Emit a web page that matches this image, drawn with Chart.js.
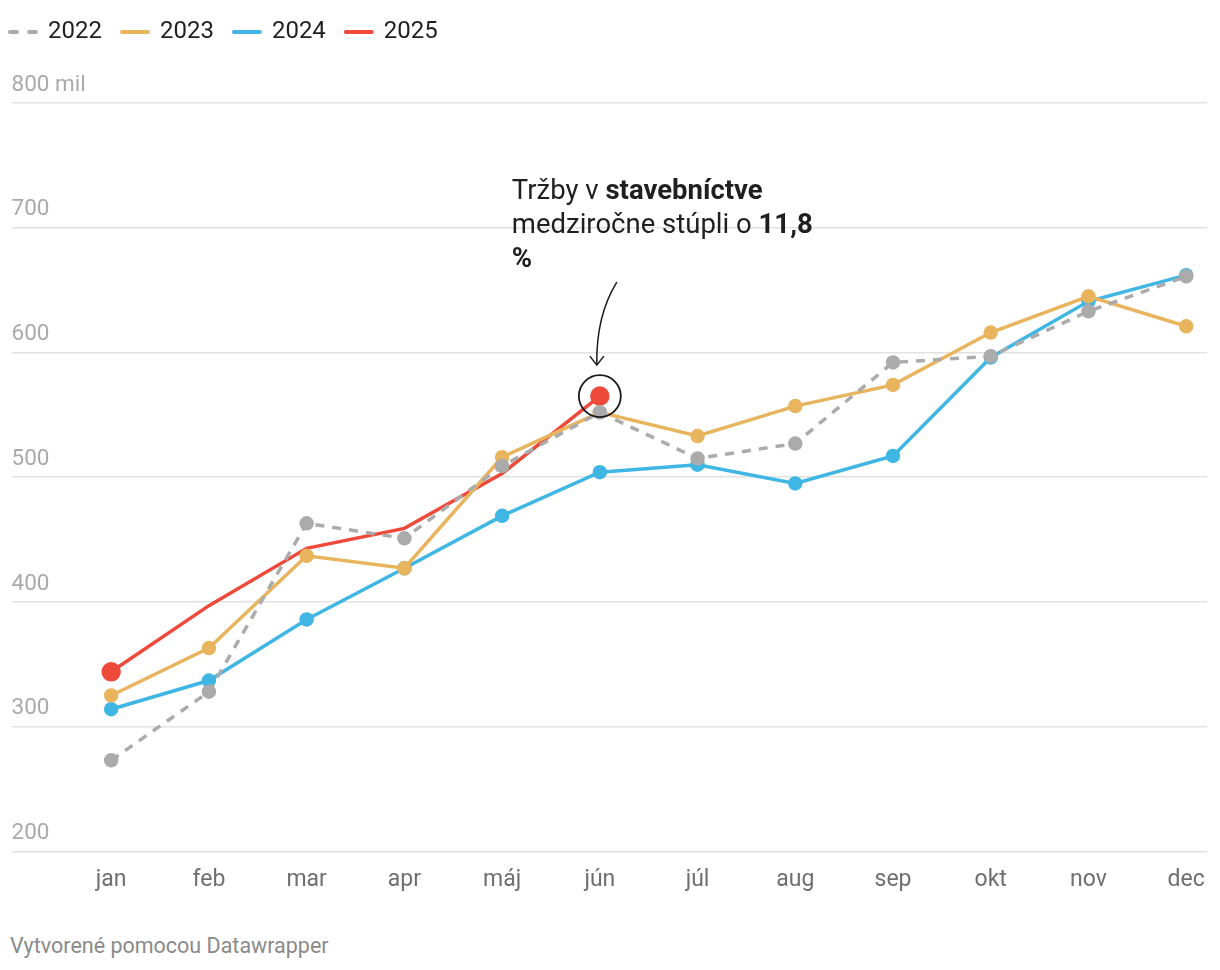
<!DOCTYPE html>
<html>
<head>
<meta charset="utf-8">
<script src="https://cdn.jsdelivr.net/npm/chart.js@4"></script>
<style>
  body { margin: 0; background: #fff; font-family: Roboto, sans-serif; }
  #wrap { position: relative; width: 1220px; height: 909px; }
  #footer { position: absolute; left: 10px; top: 933px; font-size: 21.5px; color: #8a8a8a; }
</style>
</head>
<body>
<div id="wrap"><canvas id="myLines"></canvas></div>
<div id="footer">Vytvorené pomocou Datawrapper</div>
<script>
var months = ['jan', 'feb', 'mar', 'apr', 'máj', 'jún', 'júl', 'aug', 'sep', 'okt', 'nov', 'dec'];
var years = ['2022', '2023', '2024', '2025'];
var sales2022 = [273, 328, 463, 451, 509, 552, 515, 527, 592, 597, 633, 661];
var sales2023 = [325, 363, 437, 427, 516, 552, 533, 557, 574, 616, 645, 621];
var sales2024 = [314, 337, 386, 427, 469, 504, 510, 495, 517, 596, 641, 662];
var sales2025 = [344, 397, 443, 459, 503, 565];
var yTicks = [200, 300, 400, 500, 600, 700, 800];

function toPoints(arr) {
    return arr.map(function (v, i) { return { x: i, y: v }; });
}

// extra room under the legend, and legend pulled to the left edge
var legendGap = {
    id: 'legendGap',
    beforeInit: function (chart) {
        var fit = chart.legend.fit;
        chart.legend.fit = function () {
            fit.bind(chart.legend)();
            this.height += 49;
        };
    },
    afterLayout: function (chart) {
        chart.legend.left -= 20;
        chart.legend.right -= 20;
    }
};

// annotation: circle + arrow + text near the last 2025 point
var notePlugin = {
    id: 'note',
    afterDatasetsDraw: function (chart) {
        var c = chart.ctx;
        var meta = chart.getDatasetMeta(3);
        var pt = meta.data[meta.data.length - 1];
        var px = pt.x, py = pt.y;
        c.save();
        c.strokeStyle = '#1a1a1a';
        c.lineWidth = 1.8;
        c.beginPath();
        c.arc(px, py, 21, 0, Math.PI * 2);
        c.stroke();
        // curved arrow
        c.lineWidth = 1.5;
        c.beginPath();
        c.moveTo(px + 17, py - 114);
        c.quadraticCurveTo(px - 4, py - 80, px - 3, py - 31);
        c.stroke();
        c.beginPath();
        c.moveTo(px - 10, py - 40);
        c.lineTo(px - 3, py - 31);
        c.lineTo(px + 4, py - 40);
        c.stroke();
        // text
        c.fillStyle = '#1f1f1f';
        c.textBaseline = 'middle';
        c.textAlign = 'left';
        var tx = px - 88;
        var lines = [
            [['Tržby v ', false], ['stavebníctve', true]],
            [['medziročne stúpli o ', false], ['11,8', true]],
            [['%', true]]
        ];
        var ys = [py - 204, py - 170, py - 136];
        lines.forEach(function (ln, li) {
            var x = tx;
            ln.forEach(function (part) {
                c.font = (part[1] ? 'bold ' : '') + '27.5px Roboto';
                c.fillText(part[0], x, ys[li]);
                x += c.measureText(part[0]).width;
            });
        });
        c.restore();
    }
};

var ctx = document.getElementById('myLines');
var myLines = new Chart(ctx, {
    type: 'line',
    data: {
        datasets: [{
            label: years[0],
            data: toPoints(sales2022),
            borderColor: '#ababab',
            backgroundColor: '#ababab',
            borderWidth: 3.5,
            borderDash: [9, 8],
            pointRadius: 5.5,
            pointHoverRadius: 5.5
        }, {
            label: years[1],
            data: toPoints(sales2023),
            borderColor: '#e8b45e',
            backgroundColor: '#e8b45e',
            borderWidth: 3.5,
            pointRadius: 5.5,
            pointHoverRadius: 5.5
        }, {
            label: years[2],
            data: toPoints(sales2024),
            borderColor: '#3fb6e4',
            backgroundColor: '#3fb6e4',
            borderWidth: 3.5,
            pointRadius: 5.5,
            pointHoverRadius: 5.5
        }, {
            label: years[3],
            data: toPoints(sales2025),
            borderColor: '#ee4a3b',
            backgroundColor: '#ee4a3b',
            borderWidth: 3.5,
            pointRadius: [8, 0, 0, 0, 0, 8],
            pointHoverRadius: 8
        }]
    },
    options: {
        responsive: true,
        maintainAspectRatio: false,
        animation: false,
        layout: { padding: { left: 10, right: 10, top: 0, bottom: 0 } },
        plugins: {
            tooltip: { enabled: false },
            legend: {
                align: 'start',
                labels: {
                    usePointStyle: true,
                    pointStyle: 'line',
                    pointStyleWidth: 26,
                    color: '#1f1f1f',
                    font: { family: 'Roboto', size: 24 },
                    padding: 20,
                    boxHeight: 10,
                    generateLabels: function (chart) {
                        var items = Chart.defaults.plugins.legend.labels.generateLabels(chart);
                        items.forEach(function (it, i) {
                            it.lineWidth = 4;
                            it.lineCap = 'round';
                            if (i === 0) it.lineDash = [7, 12];
                        });
                        return items;
                    }
                }
            }
        },
        scales: {
            x: {
                type: 'linear',
                min: -1.02,
                max: 11.214,
                afterBuildTicks: function (axis) {
                    axis.ticks = months.map(function (m, i) { return { value: i }; });
                },
                ticks: {
                    callback: function (v) { return months[v]; },
                    color: '#6f6f6f',
                    font: { family: 'Roboto', size: 23 },
                    padding: 15,
                    maxRotation: 0,
                    autoSkip: false
                },
                grid: { display: false, drawTicks: false },
                border: { display: false }
            },
            y: {
                min: 200,
                max: 800,
                afterBuildTicks: function (axis) {
                    axis.ticks = yTicks.map(function (v) { return { value: v }; });
                },
                ticks: {
                    mirror: true,
                    padding: 0,
                    labelOffset: -18,
                    color: '#aaaaaa',
                    font: { family: 'Roboto', size: 22.5 },
                    callback: function (v) { return v === 800 ? v + ' mil' : v; }
                },
                grid: { color: '#e2e2e2', lineWidth: 1.5, drawTicks: false },
                border: { display: false }
            }
        }
    },
    plugins: [legendGap, notePlugin]
});
</script>
</body>
</html>
